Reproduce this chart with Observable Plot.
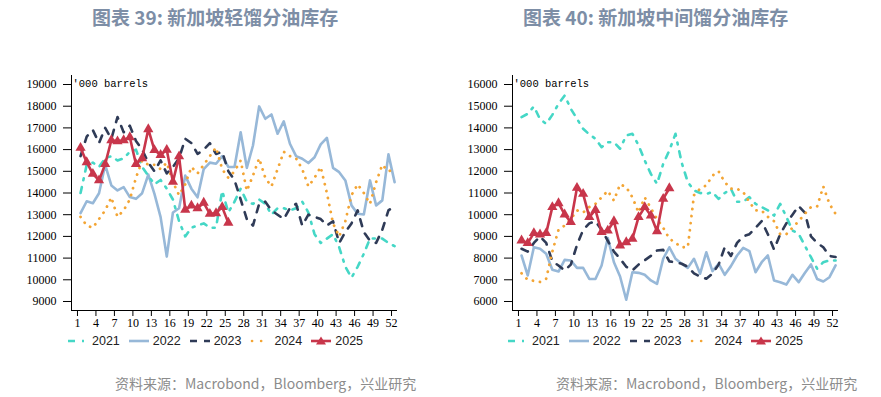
<!DOCTYPE html>
<html><head><meta charset="utf-8">
<script src="https://cdn.jsdelivr.net/npm/d3@7"></script>
<script src="https://cdn.jsdelivr.net/npm/@observablehq/plot@0.6"></script>
<style>
body{margin:0;background:#fff;width:881px;height:397px;overflow:hidden;position:relative;font-family:"Noto Sans CJK SC","Noto Sans",sans-serif}
.title{position:absolute;top:6px;line-height:22px;font-weight:700;font-size:19px;color:#7d8ea6;white-space:nowrap}
.chart{position:absolute;top:60px}
.legend{position:absolute;top:333px;height:16px;display:flex;align-items:center;font-family:"Liberation Sans",Arial,sans-serif;font-size:12.5px;color:#222}
.legend .item{display:flex;align-items:center;margin-right:9px}
.legend svg{margin-right:4px}
.caption{position:absolute;top:373px;line-height:20px;font-size:14px;color:#8c8c8c;white-space:nowrap}
</style></head><body>
<div class="title" style="left:92px">图表 39: 新加坡轻馏分油库存</div>
<div class="title" style="left:523px">图表 40: 新加坡中间馏分油库存</div>
<div id="c1" class="chart" style="left:0px"></div>
<div id="c2" class="chart" style="left:441px"></div>
<div id="l1" class="legend" style="left:68px"></div>
<div id="l2" class="legend" style="left:508px"></div>
<div class="caption" style="left:115px">资料来源：Macrobond，Bloomberg，兴业研究</div>
<div class="caption" style="left:556px">资料来源：Macrobond，Bloomberg，兴业研究</div>
<script>
// ---- data ('000 barrels, weekly) ----
const years = ["2021", "2022", "2023", "2024", "2025"];
const weekTicks = [1, 4, 7, 10, 13, 16, 19, 22, 25, 28, 31, 34, 37, 40, 43, 46, 49, 52];
const lightTicks = [9000, 10000, 11000, 12000, 13000, 14000, 15000, 16000, 17000, 18000, 19000];
const midTicks = [6000, 7000, 8000, 9000, 10000, 11000, 12000, 13000, 14000, 15000, 16000];
const unitLabel = "'000 barrels";

// Singapore light distillates
const light2021 = [14000,15300,15400,15200,15600,15700,15500,15600,15900,16000,15200,14800,14400,14600,14200,13700,12700,12000,12400,12500,12600,12400,12400,14100,13100,13600,14200,13600,13500,13700,13500,13000,13300,13300,13200,13300,13600,13100,12100,11700,11900,12100,11500,10600,10100,10600,11200,11900,11900,11900,11700,11550];
const light2022 = [13070,13620,13530,13990,15300,14350,14120,14270,13810,13730,13990,14850,13960,12890,11070,13100,13300,14800,14200,13800,15100,15400,15350,15700,15200,15200,16800,15160,16190,17990,17420,17620,16730,17300,16270,15700,15580,15380,15650,16240,16540,15160,14960,14580,13430,13040,13010,14580,13430,13660,15780,14500];
const light2023 = [15700,16600,16900,16300,17000,16500,17500,16800,17100,16400,16000,15400,15000,15500,14900,15200,15600,16500,16300,15800,16000,16300,15800,15900,15000,14600,13700,12800,12500,13500,13600,13200,13000,12800,13300,13500,12500,13000,12900,12800,12500,12700,11700,12200,12600,13200,12200,11800,11700,12300,13200,13400];
const light2024 = [12900,12500,12400,12800,13200,13800,12900,13200,13700,14700,15500,15300,15300,15100,15400,14500,13900,14400,15200,14900,15300,15700,16100,15100,14700,15000,15500,14100,14800,15600,14700,14300,15100,15900,15700,15600,15100,14300,14700,15200,14000,12600,12000,12700,13900,14400,14000,13500,14500,15300,15000,15100];
const light2025 = [16080,15420,14880,14580,15330,16430,16380,16430,16570,15330,15600,16940,15980,15750,15990,14520,15690,13230,13420,13300,13550,13040,13070,13350,12630];

// Singapore middle distillates
const mid2021 = [14500,14650,14990,14400,14190,14600,15110,15490,14880,14420,13960,13700,13500,13110,13340,13340,13040,13650,13730,13200,12500,11880,11420,12340,12960,13730,12400,11500,11120,11000,10960,11040,10730,11000,11190,10600,10600,10810,10500,10350,10200,9960,10500,9900,9270,9120,8580,8040,7510,7810,7890,7890];
const mid2022 = [8120,7200,8500,8430,8200,7460,7380,7920,7890,7550,7550,7040,7040,7660,8930,7810,7150,6080,7350,7320,7230,6970,6810,7970,8500,7970,7740,7550,7970,7280,8270,7400,7740,7230,7630,8120,8470,8320,7350,7810,8120,6970,6890,6780,7230,6890,7310,7710,7040,6920,7120,7660];
const mid2023 = [8430,8300,8700,9000,8700,7850,7660,7430,7700,8600,9300,9600,9700,9300,8800,8300,7970,7600,7430,7700,7900,8100,8350,8380,7850,7800,7740,7600,7300,7150,7050,7280,7700,8500,8100,8700,9000,9100,9400,9700,9100,8400,9100,9600,10000,10400,10100,9000,8700,8500,8100,8050];
const mid2024 = [7300,7000,6950,6900,7050,8300,9300,9500,9800,10200,10100,10350,10500,10800,11100,10650,11400,11270,10800,10100,10800,10300,9800,9400,8900,8700,8500,8500,10900,11200,11350,11800,12000,11500,11200,11190,11040,10580,10200,10190,9900,9700,9100,9100,9400,9700,10040,10350,10380,11300,10500,10040];
const mid2025 = [8810,8690,9150,9090,9150,10350,10530,10010,9660,11240,10960,9890,10220,9200,9270,9700,8580,8730,8890,9890,10350,9960,9240,10730,11220];

// ---- styles ----
const colors = {"2021": "#45d7c6", "2022": "#97b8d8", "2023": "#2f3b57", "2024": "#f3a535", "2025": "#c8364b"};
const lineStyle = {
  "2021": {strokeWidth: 2.6, strokeDasharray: "6,7,2,7"},
  "2022": {strokeWidth: 2.6},
  "2023": {strokeWidth: 2.6, strokeDasharray: "7,8"},
  "2024": {strokeWidth: 2.8, strokeDasharray: "0.1,7", strokeLinecap: "round"},
  "2025": {strokeWidth: 2.6}
};
const drawOrder = ["2022", "2021", "2023", "2024", "2025"];

function makeChart(series, yDomain, yTicks) {
  const data = years.flatMap(y => series[y].map((v, i) => ({year: y, week: i + 1, value: v})));
  const sel = y => data.filter(d => d.year === y);
  const pos = d => d.week + 0.5; // weekly readings sit half a week right of the week tick
  const xDomain = [0.03, 52.97];
  return Plot.plot({
    width: 400, height: 280,
    marginLeft: 71, marginRight: 3, marginTop: 15, marginBottom: 30,
    style: {background: "transparent", color: "#000", overflow: "visible"},
    x: {domain: xDomain},
    y: {domain: yDomain},
    marks: [
      ...drawOrder.map(y => Plot.lineY(sel(y), {x: pos, y: "value", stroke: colors[y], ...lineStyle[y]})),
      Plot.dot(sel("2025"), {x: pos, y: "value", symbol: "triangle", r: 3.8, fill: colors["2025"], stroke: "none"}),
      Plot.ruleX([xDomain[0]], {stroke: "#000", strokeWidth: 1}),
      Plot.ruleY([yDomain[0]], {stroke: "#000", strokeWidth: 1}),
      Plot.axisY({ticks: yTicks, label: null, tickSize: 8, tickPadding: 7, fontSize: 12, fontFamily: "Liberation Serif", tickFormat: d => String(d)}),
      Plot.axisX({ticks: weekTicks, label: null, tickSize: 6, tickPadding: 2, fontSize: 12, fontFamily: "Liberation Serif", tickFormat: d => String(d)}),
      Plot.text([unitLabel], {text: d => d, frameAnchor: "top-left", textAnchor: "start", lineAnchor: "top", dx: 1, dy: 4, fontSize: 10.5, fontFamily: "Liberation Mono"})
    ]
  });
}

function swatch(y) {
  const c = colors[y];
  const ns = "http://www.w3.org/2000/svg";
  const svg = document.createElementNS(ns, "svg");
  svg.setAttribute("width", 20); svg.setAttribute("height", 12);
  const line = document.createElementNS(ns, "line");
  line.setAttribute("x1", y === "2024" ? 2 : 0); line.setAttribute("x2", 20);
  line.setAttribute("y1", 6); line.setAttribute("y2", 6);
  line.setAttribute("stroke", c); line.setAttribute("stroke-width", 2.6);
  if (y === "2021") line.setAttribute("stroke-dasharray", "7,7,2,10");
  if (y === "2023") line.setAttribute("stroke-dasharray", "7,7");
  if (y === "2024") { line.setAttribute("stroke-dasharray", "0.1,9"); line.setAttribute("stroke-linecap", "round"); }
  svg.appendChild(line);
  if (y === "2025") {
    const p = document.createElementNS(ns, "path");
    p.setAttribute("d", "M10,1.5 L15,9.5 L5,9.5 Z");
    p.setAttribute("fill", c);
    svg.appendChild(p);
  }
  return svg;
}
function makeLegend(el) {
  for (const y of years) {
    const item = document.createElement("div");
    item.className = "item";
    item.appendChild(swatch(y));
    const t = document.createElement("span");
    t.textContent = y;
    item.appendChild(t);
    el.appendChild(item);
  }
}

document.getElementById("c1").appendChild(makeChart(
  {"2021": light2021, "2022": light2022, "2023": light2023, "2024": light2024, "2025": light2025},
  [8585, 19415], lightTicks));
document.getElementById("c2").appendChild(makeChart(
  {"2021": mid2021, "2022": mid2022, "2023": mid2023, "2024": mid2024, "2025": mid2025},
  [5585, 16415], midTicks));
makeLegend(document.getElementById("l1"));
makeLegend(document.getElementById("l2"));
</script>
</body></html>
